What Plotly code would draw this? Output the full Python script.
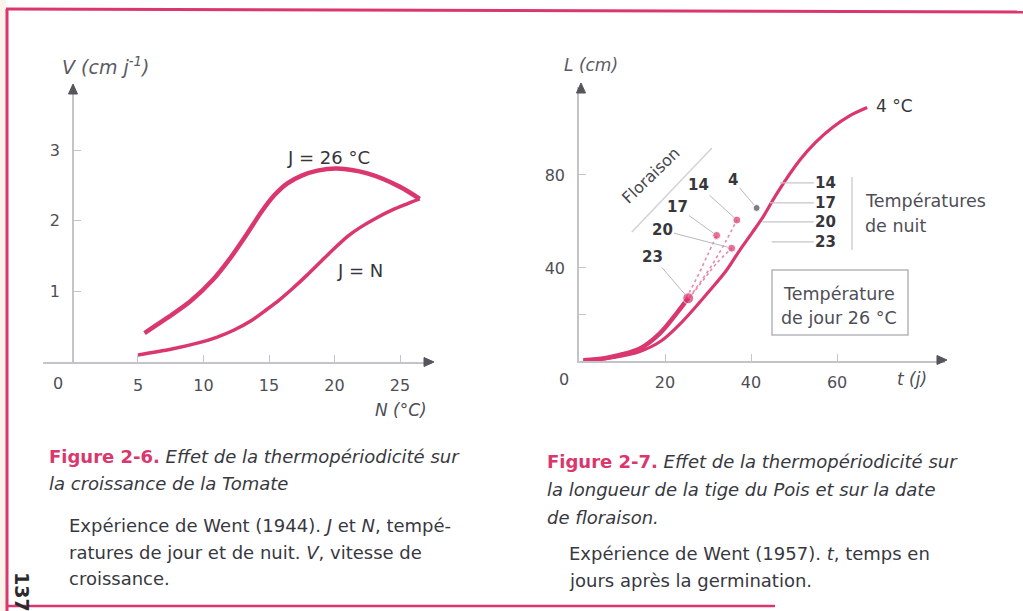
import plotly.graph_objects as go

W, H = 1023, 611
PINK = "#d9376d"
PINK_LIGHT = "#e98aab"
INK = "#36363b"
TICK_INK = "#4e4e56"
AXIS = "#c3c3ca"
FONT = "DejaVu Sans, Open Sans, sans-serif"


def px(x):
    return x / W


def py(y):
    return 1 - y / H


# ---- Figure 2-6 : growth rate of tomato vs night temperature ----
n_day26 = [5.5, 7.2, 9.0, 10.7, 12.0, 13.2, 14.4, 15.4, 16.4, 17.5, 18.7, 20.2, 22.5, 25.0, 26.5]
v_day26 = [0.41, 0.62, 0.86, 1.16, 1.46, 1.78, 2.12, 2.36, 2.53, 2.64, 2.71, 2.74, 2.67, 2.48, 2.31]
n_equal = [5.0, 7.5, 9.6, 11.0, 12.3, 13.6, 14.8, 15.8, 16.8, 17.9, 19.0, 20.0, 21.0, 22.0, 23.2, 24.5, 26.5]
v_equal = [0.10, 0.18, 0.27, 0.35, 0.45, 0.58, 0.74, 0.88, 1.04, 1.23, 1.43, 1.61, 1.78, 1.91, 2.04, 2.16, 2.31]
n_ticks = [5, 10, 15, 20, 25]
v_ticks = [1, 2, 3]

# ---- Figure 2-7 : pea stem length vs days after germination ----
t_night4 = [1, 8, 14, 19, 23, 27, 30.5, 34.3, 37.4, 40.2, 42.8, 46, 51.4, 55, 59, 63, 67]
l_night4 = [0, 1.5, 4, 8.5, 15, 23, 30.5, 39, 47.7, 55, 62, 72, 86.5, 94, 100.5, 105.5, 109]
t_night23 = [1, 6, 9.5, 14.2, 18.8, 22.7, 25.4]
l_night23 = [0.3, 1.2, 2.6, 5.4, 11.9, 20.5, 27]
t_night20 = [22.7, 26, 29, 32, 35.5]
l_night20 = [20.5, 28, 35, 42, 48.5]
t_night17 = [22.7, 25.5, 28, 30, 32]
l_night17 = [20.5, 29, 38, 46, 54]
t_night14 = [24, 27.5, 31, 34, 36.7]
l_night14 = [23, 32, 41.5, 51, 60.6]

flower_labels = ["23", "20", "17", "14", "4"]
flower_t = [25.4, 35.5, 32.0, 36.7, 41.3]
flower_l = [27.0, 48.5, 54.0, 60.6, 65.8]

night_labels = ["14", "17", "20", "23"]
night_level = [76.6, 68.0, 59.8, 51.2]
night_start = [46.7, 44.4, 42.6, 44.8]

t_ticks = [20, 40, 60]
l_ticks = [40, 80]
l_minor = [20]

fig = go.Figure()

fig.add_trace(go.Scatter(x=n_day26, y=v_day26, mode="lines",
                         line=dict(color=PINK, width=4.5, shape="spline", smoothing=0.8),
                         xaxis="x", yaxis="y", hoverinfo="skip"))
fig.add_trace(go.Scatter(x=n_equal, y=v_equal, mode="lines",
                         line=dict(color=PINK, width=3.5, shape="spline", smoothing=0.8),
                         xaxis="x", yaxis="y", hoverinfo="skip"))

for tt, ll in [(t_night20, l_night20), (t_night17, l_night17), (t_night14, l_night14)]:
    fig.add_trace(go.Scatter(x=tt, y=ll, mode="lines",
                             line=dict(color=PINK_LIGHT, width=1.6, dash="dot", shape="spline"),
                             xaxis="x2", yaxis="y2", hoverinfo="skip"))
fig.add_trace(go.Scatter(x=t_night4, y=l_night4, mode="lines", line=dict(color=PINK, width=3.2, shape="spline"),
                         xaxis="x2", yaxis="y2", hoverinfo="skip"))
fig.add_trace(go.Scatter(x=t_night23, y=l_night23, mode="lines", line=dict(color=PINK, width=4.5, shape="spline"),
                         xaxis="x2", yaxis="y2", hoverinfo="skip"))
fig.add_trace(go.Scatter(x=flower_t, y=flower_l, mode="markers",
                         marker=dict(color=[PINK, PINK, PINK, PINK, "#4a4a50"], size=[11, 8, 8, 8, 7]),
                         xaxis="x2", yaxis="y2", hoverinfo="skip"))

axis_common = dict(showgrid=False, zeroline=False, showline=True, linecolor=AXIS, linewidth=1.5,
                   ticks="inside", ticklen=7, tickwidth=1.2, tickcolor=AXIS,
                   tickfont=dict(family=FONT, size=16, color=TICK_INK), fixedrange=True)

fig.update_layout(
    width=W, height=H, margin=dict(l=0, r=0, t=0, b=0),
    paper_bgcolor="white", plot_bgcolor="rgba(0,0,0,0)", showlegend=False,
    xaxis=dict(domain=[px(43), px(432)], range=[-2.25, 27.44], anchor="y",
               tickvals=n_ticks, ticklabelstandoff=8, **axis_common),
    yaxis=dict(domain=[py(362), py(88)], range=[0, 3.88], anchor="free", position=px(73),
               tickvals=v_ticks, ticklabelstandoff=9, **axis_common),
    xaxis2=dict(domain=[px(579), px(945)], range=[0, 85.1], anchor="y2",
                tickvals=t_ticks, ticklabelstandoff=6, **axis_common),
    yaxis2=dict(domain=[py(361), py(87)], range=[0, 117.8], anchor="x2",
                tickvals=l_ticks, ticklabelstandoff=9,
                minor=dict(tickvals=l_minor, ticks="inside", ticklen=7, tickcolor=AXIS, tickwidth=1.2),
                **axis_common),
)

shapes = []
# page frame
shapes.append(dict(type="rect", xref="paper", yref="paper", x0=0, x1=px(6), y0=0, y1=1,
                   fillcolor="#fbf4ea", line=dict(width=0), layer="below"))
shapes.append(dict(type="line", xref="paper", yref="paper", x0=px(6), x1=1, y0=py(9), y1=py(12),
                   line=dict(color=PINK, width=3)))
shapes.append(dict(type="line", xref="paper", yref="paper", x0=px(7), x1=px(7), y0=py(9), y1=0,
                   line=dict(color=PINK, width=3)))
shapes.append(dict(type="line", xref="paper", yref="paper", x0=px(7), x1=px(775), y0=py(606), y1=py(606),
                   line=dict(color=PINK, width=2.5)))


def arrow_head(tip_x, tip_y, direction):
    # small filled triangle at an axis end, built in paper fractions
    if direction == "right":
        pts = [(tip_x, tip_y), (tip_x - 10, tip_y - 4.5), (tip_x - 10, tip_y + 4.5)]
    else:
        pts = [(tip_x, tip_y), (tip_x - 4.5, tip_y + 10), (tip_x + 4.5, tip_y + 10)]
    path = "M " + " L ".join("%.5f,%.5f" % (px(a), py(b)) for a, b in pts) + " Z"
    return dict(type="path", xref="paper", yref="paper", path=path,
                fillcolor="#55555b", line=dict(color="#55555b", width=1))


shapes += [arrow_head(434, 362, "right"), arrow_head(73, 84, "up"),
           arrow_head(947, 360, "right"), arrow_head(581, 83, "up")]

# "Floraison" guide line
shapes.append(dict(type="line", xref="x2", yref="y2", x0=12.3, y0=55.5, x1=30.9, y1=91.6,
                   line=dict(color="#d2d2d8", width=1.5)))
# bracket for night temperatures
shapes.append(dict(type="line", xref="paper", yref="paper", x0=px(852), x1=px(852), y0=py(177), y1=py(250),
                   line=dict(color="#d0d0d6", width=1.5)))
# day temperature box
shapes.append(dict(type="rect", xref="paper", yref="paper", x0=px(772), x1=px(908), y0=py(335), y1=py(270),
                   line=dict(color="#b5b5bc", width=1.5)))
fig.update_layout(shapes=shapes)

ann = []


def text(x, y, s, size=15, color=INK, anchor="center", angle=0, italic=False, bold=False):
    if italic:
        s = "<i>" + s + "</i>"
    if bold:
        s = "<b>" + s + "</b>"
    ann.append(dict(x=px(x), y=py(y), xref="paper", yref="paper", text=s, showarrow=False,
                    xanchor=anchor, yanchor="middle", textangle=angle,
                    font=dict(family=FONT, size=size, color=color)))


# axis titles and origins
text(105, 66, "V (cm j<sup>-1</sup>)", size=19, color="#5a5a62", italic=True)
text(58, 383, "0", size=16, color=TICK_INK)
text(401, 410, "N (°C)", size=17, color="#4e4e56", italic=True)
text(591, 65, "L (cm)", size=17, color="#5a5a62", italic=True)
text(564, 379, "0", size=16, color=TICK_INK)
text(912, 379, "t (j)", size=17, color="#4e4e56", italic=True)

# curve labels, Figure 2-6
text(328, 157, "J = 26 °C", size=18)
text(360, 270, "J = N", size=18)

# curve labels, Figure 2-7
text(894, 106, "4 °C", size=17)
text(651, 176, "Floraison", size=16, color="#48484f", angle=-44)
label_pos = [(17.2, 44.7), (19.3, 56.3), (22.8, 66.2), (27.7, 75.7), (35.8, 77.8)]
for lab, (lt, ll), ft, fl in zip(flower_labels, label_pos, flower_t, flower_l):
    ann.append(dict(x=ft, y=fl, xref="x2", yref="y2", ax=lt, ay=ll, axref="x2", ayref="y2",
                    text="<b>" + lab + "</b>", showarrow=True, arrowhead=0, arrowwidth=1,
                    arrowcolor="#b8b8c0", standoff=4,
                    font=dict(family=FONT, size=15, color=INK)))
for lab, lv, ls in zip(night_labels, night_level, night_start):
    ann.append(dict(x=ls, y=lv, xref="x2", yref="y2", ax=57.4, ay=lv, axref="x2", ayref="y2",
                    text="<b>" + lab + "</b>", showarrow=True, arrowhead=0, arrowwidth=1.2,
                    arrowcolor="#c6c6cc", standoff=0,
                    font=dict(family=FONT, size=15, color=INK)))
text(863, 201, "Températures", size=17.5, color="#4e4e56", anchor="left")
text(863, 226, "de nuit", size=17.5, color="#4e4e56", anchor="left")
text(839, 294, "Température", size=17.5, color="#4e4e56")
text(839, 318, "de jour 26 °C", size=17.5, color="#4e4e56")

# captions
CAP = "#38383f"
CS = 18
text(47, 456, '<span style="color:%s"><b>Figure 2-6.</b></span> <i>Effet de la thermopériodicité sur</i>' % PINK,
     size=CS, color=CAP, anchor="left")
text(47, 483, "<i>la croissance de la Tomate</i>", size=CS, color=CAP, anchor="left")
text(67, 525, "Expérience de Went (1944). <i>J</i> et <i>N</i>, tempé-", size=CS, color=CAP, anchor="left")
text(67, 552, "ratures de jour et de nuit. <i>V</i>, vitesse de", size=CS, color=CAP, anchor="left")
text(67, 578, "croissance.", size=CS, color=CAP, anchor="left")

text(545, 461, '<span style="color:%s"><b>Figure 2-7.</b></span> <i>Effet de la thermopériodicité sur</i>' % PINK,
     size=CS, color=CAP, anchor="left")
text(545, 489, "<i>la longueur de la tige du Pois et sur la date</i>", size=CS, color=CAP, anchor="left")
text(545, 517, "<i>de floraison.</i>", size=CS, color=CAP, anchor="left")
text(567, 553, "Expérience de Went (1957). <i>t</i>, temps en", size=CS, color=CAP, anchor="left")
text(567, 580, "jours après la germination.", size=CS, color=CAP, anchor="left")

# page number on the margin
text(22, 592, "<b>137</b>", size=19, color="#2a2a2e", angle=90)

fig.update_layout(annotations=ann)
fig.write_html("out.html")
